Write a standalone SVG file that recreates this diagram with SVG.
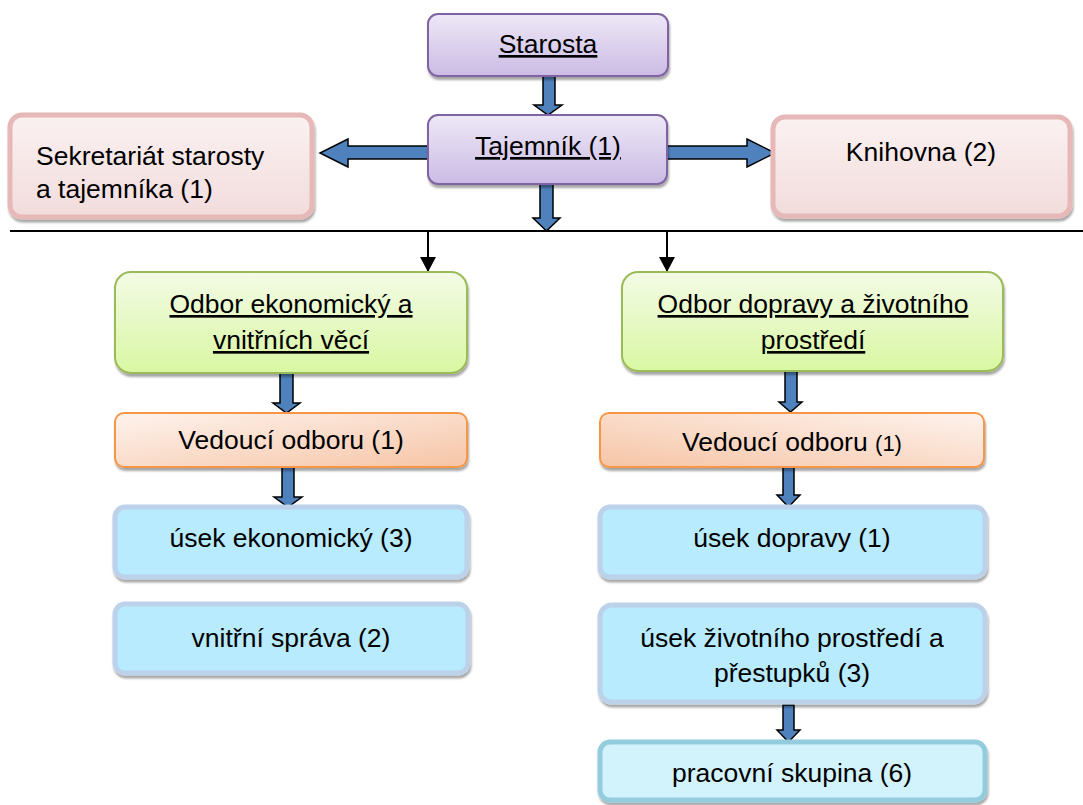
<svg xmlns="http://www.w3.org/2000/svg" width="1083" height="805" viewBox="0 0 1083 805">
<defs>
<linearGradient id="gPur" x1="0" y1="0" x2="0" y2="1"><stop offset="0" stop-color="#eee8f6"/><stop offset="1" stop-color="#cbbbe5"/></linearGradient>
<linearGradient id="gPink" x1="0" y1="0" x2="0" y2="1"><stop offset="0" stop-color="#fbf1f1"/><stop offset="1" stop-color="#f2dcdc"/></linearGradient>
<linearGradient id="gGreen" x1="0" y1="0" x2="0" y2="1"><stop offset="0" stop-color="#f3fbe6"/><stop offset="1" stop-color="#d9f7a2"/></linearGradient>
<linearGradient id="gOrL" x1="0" y1="0" x2="1" y2="1"><stop offset="0" stop-color="#fef3ee"/><stop offset="1" stop-color="#f6c5a6"/></linearGradient>
<linearGradient id="gOrR" x1="0" y1="1" x2="1" y2="0"><stop offset="0" stop-color="#f6c5a6"/><stop offset="1" stop-color="#fef3ee"/></linearGradient>
<filter id="sh" x="-5%" y="-10%" width="110%" height="130%"><feDropShadow dx="1" dy="3" stdDeviation="1" flood-color="#000" flood-opacity="0.35"/></filter>
<marker id="ah" markerWidth="16" markerHeight="16" refX="15" refY="8" orient="auto" markerUnits="userSpaceOnUse"><path d="M0,0 L15,8 L0,16 Z" fill="#000"/></marker>
</defs>
<style>
text{font-family:"Liberation Sans",Arial,sans-serif;font-size:26.5px;fill:#000}
.c{text-anchor:middle}
.u{text-decoration:underline}
.pur{fill:url(#gPur);stroke:#8064a2;stroke-width:2}
.pink{fill:url(#gPink);stroke:#e6b9b8;stroke-width:5}
.green{fill:url(#gGreen);stroke:#9bbb59;stroke-width:2}
.orL{fill:url(#gOrL);stroke:#f79646;stroke-width:2}
.orR{fill:url(#gOrR);stroke:#f79646;stroke-width:2}
.blue{fill:#b7ebfd;stroke:#bcd2ea;stroke-width:5}
.teal{fill:#d2f2fc;stroke:#93cddd;stroke-width:5}
.barr{fill:#4f81bd;stroke:#000;stroke-width:1.5;stroke-linejoin:miter}
.ln{stroke:#000;stroke-width:2;fill:none}
</style>

<g id="connectors">
<line class="ln" x1="10" y1="231" x2="1083" y2="231"/>
<line class="ln" x1="428" y1="231" x2="428" y2="272" marker-end="url(#ah)"/>
<line class="ln" x1="667" y1="231" x2="667" y2="272" marker-end="url(#ah)"/>
<path class="barr" d="M543,76 H555 V105 H562 L548,115 L534,105 H543 Z"/>
<path class="barr" d="M540,184 H553 V218 H560 L546.5,231 L533,218 H540 Z"/>
<path class="barr" d="M667,146 H747 V139 L775,153 L747,167 V159 H667 Z"/>
<path class="barr" d="M428,146 H348 V139 L320,153 L348,167 V159 H428 Z"/>
<path class="barr" d="M280,373 H293 V403 H300 L286.5,413 L273,403 H280 Z"/>
<path class="barr" d="M282,467 H294 V497 H302 L288,507 L274,497 H282 Z"/>
<path class="barr" d="M785,371 H797 V402 H802 L790.5,412 L779,402 H785 Z"/>
<path class="barr" d="M783,467 H794 V495 H800 L788.5,507 L777,495 H783 Z"/>
<path class="barr" d="M783,705 H794 V730 H800 L788.5,742 L777,730 H783 Z"/>
</g>

<g id="starosta">
<rect class="pur" x="428" y="14" width="240" height="62" rx="10" filter="url(#sh)"/>
<text class="c u" x="548" y="53">Starosta</text>
</g>

<g id="tajemnik">
<rect class="pur" x="428" y="115" width="239" height="69" rx="10" filter="url(#sh)"/>
<text class="c u" x="548" y="155">Tajemník (1)</text>
</g>

<g id="sekretariat">
<rect class="pink" x="10" y="115" width="302" height="102" rx="12" filter="url(#sh)"/>
<text x="36" y="165">Sekretariát starosty</text>
<text x="36" y="198">a tajemníka (1)</text>
</g>

<g id="knihovna">
<rect class="pink" x="773" y="117" width="297" height="99" rx="12" filter="url(#sh)"/>
<text class="c" x="921" y="161">Knihovna (2)</text>
</g>

<g id="odbor-ekonomicky">
<rect class="green" x="115" y="272" width="352" height="101" rx="16" filter="url(#sh)"/>
<text class="c u" x="291" y="313">Odbor ekonomický a</text>
<text class="c u" x="291" y="349">vnitřních věcí</text>
</g>

<g id="vedouci-ekonomicky">
<rect class="orL" x="115" y="413" width="352" height="54" rx="9" filter="url(#sh)"/>
<text class="c" x="291" y="449">Vedoucí odboru (1)</text>
</g>

<g id="usek-ekonomicky">
<rect class="blue" x="115" y="507" width="352" height="70" rx="10" filter="url(#sh)"/>
<text class="c" x="291" y="547">úsek ekonomický (3)</text>
</g>

<g id="vnitrni-sprava">
<rect class="blue" x="115" y="604" width="353" height="69" rx="10" filter="url(#sh)"/>
<text class="c" x="291" y="647">vnitřní správa (2)</text>
</g>

<g id="odbor-dopravy">
<rect class="green" x="622" y="272" width="381" height="99" rx="16" filter="url(#sh)"/>
<text class="c u" x="813" y="313">Odbor dopravy a životního</text>
<text class="c u" x="813" y="349">prostředí</text>
</g>

<g id="vedouci-dopravy">
<rect class="orR" x="600" y="413" width="384" height="54" rx="9" filter="url(#sh)"/>
<text class="c" x="792" y="451">Vedoucí odboru <tspan font-size="22">(1)</tspan></text>
</g>

<g id="usek-dopravy">
<rect class="blue" x="600" y="507" width="385" height="70" rx="10" filter="url(#sh)"/>
<text class="c" x="792" y="547">úsek dopravy (1)</text>
</g>

<g id="usek-zivotniho">
<rect class="blue" x="600" y="605" width="385" height="97" rx="12" filter="url(#sh)"/>
<text class="c" x="792" y="647">úsek životního prostředí a</text>
<text class="c" x="792" y="682">přestupků (3)</text>
</g>

<g id="pracovni-skupina">
<rect class="teal" x="600" y="742" width="385" height="58" rx="10" filter="url(#sh)"/>
<text class="c" x="792" y="782">pracovní skupina (6)</text>
</g>
</svg>
